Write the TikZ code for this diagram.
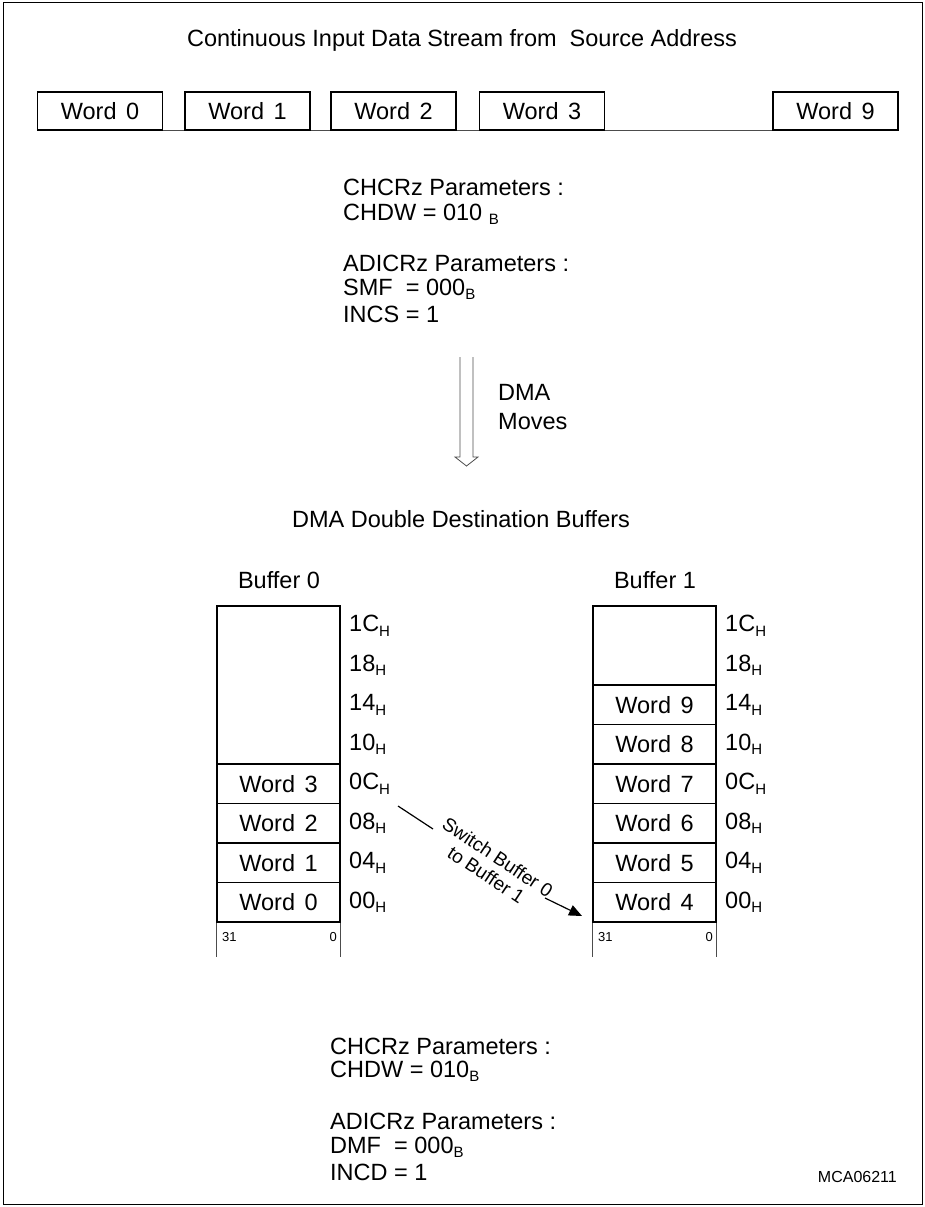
\documentclass[tikz,border=0pt]{standalone}
\usepackage{fontspec}
\setmainfont{Liberation Sans}
\usetikzlibrary{arrows.meta}
\newcommand\sbs[1]{\raisebox{-0.35ex}{\fontsize{15}{15}\selectfont #1}}
\begin{document}
\begin{tikzpicture}[x=1pt,y=-1pt,font=\fontsize{23.5}{26}\selectfont,
  wordbox/.style={draw,line width=1.4pt,fill=white,minimum width=125pt,minimum height=38pt,inner sep=0pt},
  cell/.style={draw,line width=1.4pt,minimum width=123pt,minimum height=39.5pt,inner sep=0pt},
  txt/.style={anchor=west,inner sep=0pt},
  small/.style={font=\fontsize{13}{14}\selectfont,inner sep=0pt},
  thinline/.style={draw=black!70,line width=0.8pt}]
\useasboundingbox (0,0) rectangle (925,1207);
\draw[line width=1pt] (3,3) rectangle (922,1204);

% title
\node[inner sep=0pt] (title) at (462,40) {Continuous Input Data Stream from\ \ Source Address};

% input words
\node[wordbox] (w0) at (100,111) {Word\hspace{0.4em}0};
\node[wordbox] (w1) at (247.5,111) {Word\hspace{0.4em}1};
\node[wordbox] (w2) at (393.5,111) {Word\hspace{0.4em}2};
\node[wordbox] (w3) at (542,111) {Word\hspace{0.4em}3};
\node[wordbox] (w9) at (835.5,111) {Word\hspace{0.4em}9};
\draw[thinline] (w0.south east) -- (w1.south west);
\draw[thinline] (w1.south east) -- (w2.south west);
\draw[thinline] (w2.south east) -- (w3.south west);
\draw[thinline] (w3.south east) -- (w9.south west);

% source parameters
\node[txt] (p1) at (343,187) {CHCRz Parameters :};
\node[txt] (p2) at (343,214) {CHDW = 010 \sbs{B}};
\node[txt] (p3) at (343,263) {ADICRz Parameters :};
\node[txt] (p4) at (343,289) {SMF\ \ = 000\sbs{B}};
\node[txt] (p5) at (343,314) {INCS = 1};

% DMA moves hollow arrow
\coordinate (a1) at (460,357);
\coordinate (a2) at (473,357);
\draw[thinline,line join=miter] (a1) -- (460,457) -- (455,457) -- (466.5,466) -- (478,457) -- (473,457) -- (a2);
\node[txt] (dma) at (498,392) {DMA};
\node[txt] (mov) at (498,422) {Moves};

\node[inner sep=0pt] (dst) at (461,519) {DMA Double Destination Buffers};

% Buffer 0
\node[inner sep=0pt] (b0t) at (279,580) {Buffer 0};
\node[cell,minimum height=158pt] (b0e) at (278.5,685) {};
\node[cell] (b0r4) at (278.5,783.75) {Word\hspace{0.4em}3};
\node[cell] (b0r5) at (278.5,823.25) {Word\hspace{0.4em}2};
\node[cell] (b0r6) at (278.5,862.75) {Word\hspace{0.4em}1};
\node[cell] (b0r7) at (278.5,902.25) {Word\hspace{0.4em}0};
\draw[thinline] (b0r7.south west) -- ++(0,34);
\draw[thinline] (b0r7.south east) -- ++(0,34);
\node[small,anchor=north west] (b0hi) at (222,932) {31};
\node[small,anchor=north east] (b0lo) at (337,932) {0};

% Buffer 1
\node[inner sep=0pt] (b1t) at (655,580) {Buffer 1};
\node[cell,minimum height=79pt] (b1e) at (654.5,645.5) {};
\node[cell] (b1r2) at (654.5,704.75) {Word\hspace{0.4em}9};
\node[cell] (b1r3) at (654.5,744.25) {Word\hspace{0.4em}8};
\node[cell] (b1r4) at (654.5,783.75) {Word\hspace{0.4em}7};
\node[cell] (b1r5) at (654.5,823.25) {Word\hspace{0.4em}6};
\node[cell] (b1r6) at (654.5,862.75) {Word\hspace{0.4em}5};
\node[cell] (b1r7) at (654.5,902.25) {Word\hspace{0.4em}4};
\draw[thinline] (b1r7.south west) -- ++(0,34);
\draw[thinline] (b1r7.south east) -- ++(0,34);
\node[small,anchor=north west] (b1hi) at (598,932) {31};
\node[small,anchor=north east] (b1lo) at (713,932) {0};

% address labels
\foreach \lab [count=\i from 0] in {1C,18,14,10,0C,08,04,00} {
  \node[txt] (l0\i) at (349,625.75+39.5*\i) {\lab\sbs{H}};
  \node[txt] (l1\i) at (725,625.75+39.5*\i) {\lab\sbs{H}};
}

% switch arrow
\coordinate (s0) at (398,806);
\coordinate (s1) at (433,829);
\coordinate (s2) at (545,898);
\coordinate (s3) at (582,916);
\draw[line width=1.2pt] (s0) -- (s1);
\draw[line width=1.2pt,-{Triangle[length=13pt,width=11pt]}] (s2) -- (s3);
\node[inner sep=0pt,rotate=-33.5,align=center,font=\fontsize{19}{21}\selectfont] (sw) at (492,866) {Switch Buffer 0\\to Buffer 1};

% destination parameters
\node[txt] (q1) at (330,1046) {CHCRz Parameters :};
\node[txt] (q2) at (330,1071) {CHDW = 010\sbs{B}};
\node[txt] (q3) at (330,1121) {ADICRz Parameters :};
\node[txt] (q4) at (330,1147) {DMF\ \ = 000\sbs{B}};
\node[txt] (q5) at (330,1172) {INCD = 1};

\node[anchor=east,inner sep=0pt,font=\fontsize{16}{18}\selectfont] (id) at (897,1177) {MCA06211};
\end{tikzpicture}
\end{document}
